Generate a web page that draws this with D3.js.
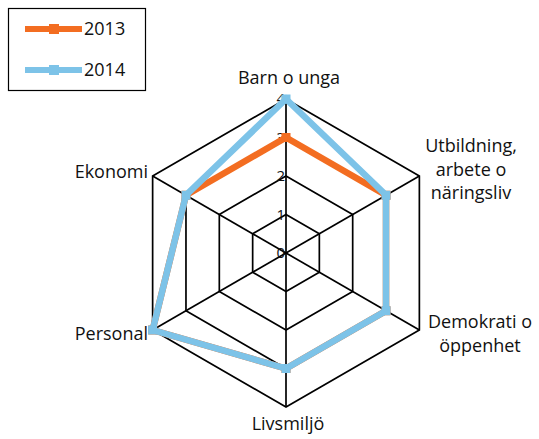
<!DOCTYPE html>
<html>
<head>
<meta charset="utf-8">
<script src="https://cdn.jsdelivr.net/npm/d3@7"></script>
<style>
  html, body { margin: 0; padding: 0; background: #fff; }
  svg { display: block; }
  text { font-family: "Open Sans", Lato, sans-serif; fill: #111; }
</style>
</head>
<body>
<svg id="chart" width="539" height="439"></svg>
<script>
// Radar chart: six areas rated 0–4, two years
const categories = [
  ["Barn o unga"],
  ["Utbildning,", "arbete o", "näringsliv"],
  ["Demokrati o", "öppenhet"],
  ["Livsmiljö"],
  ["Personal"],
  ["Ekonomi"]
];
const years = ["2013", "2014"];
const values2013 = [3, 3, 3, 3, 4, 3];
const values2014 = [4, 3, 3, 3, 4, 3];
const tickValues = [0, 1, 2, 3, 4];
const colors = ["#F36D21", "#7DC3E8"];

const svg = d3.select("#chart");
const cx = 286, cy = 253, R = 154;
const r = d3.scaleLinear().domain([0, 4]).range([0, R]);
const angle = d3.scaleLinear().domain([0, categories.length]).range([0, 2 * Math.PI]);
const pt = (i, v) => [cx + r(v) * Math.sin(angle(i)), cy - r(v) * Math.cos(angle(i))];

const grid = svg.append("g").attr("stroke", "#000").attr("stroke-width", 1.7).attr("fill", "none");
// spokes
categories.forEach((c, i) => {
  grid.append("line")
    .attr("x1", cx).attr("y1", cy)
    .attr("x2", pt(i, 4)[0]).attr("y2", pt(i, 4)[1]);
});
// rings
tickValues.filter(t => t > 0).forEach(t => {
  grid.append("path")
    .attr("d", d3.line()(categories.map((c, i) => pt(i, t))) + "Z");
});

// tick labels along the top spoke
svg.append("g").selectAll("text").data(tickValues).join("text")
  .attr("x", cx - 1).attr("y", d => cy - r(d))
  .attr("text-anchor", "end").attr("dy", "0.36em")
  .attr("font-size", 15)
  .text(d => d);

// series
const series = [values2013, values2014];
series.forEach((vals, s) => {
  const g = svg.append("g");
  g.append("path")
    .attr("d", d3.line()(vals.map((v, i) => pt(i, v))) + "Z")
    .attr("fill", "none").attr("stroke", colors[s])
    .attr("stroke-width", 6.5).attr("stroke-linejoin", "miter");
  g.selectAll("rect").data(vals).join("rect")
    .attr("x", (v, i) => pt(i, v)[0] - 4.5)
    .attr("y", (v, i) => pt(i, v)[1] - 4.5)
    .attr("width", 9).attr("height", 9)
    .attr("fill", colors[s]);
});

// category labels
const labelPos = [
  { x: 289, y: 84, anchor: "middle" },
  { x: 471, y: 152, anchor: "middle" },
  { x: 480, y: 328, anchor: "middle" },
  { x: 288, y: 430, anchor: "middle" },
  { x: 148, y: 340, anchor: "end" },
  { x: 148, y: 178, anchor: "end" }
];
categories.forEach((lines, i) => {
  const t = svg.append("text")
    .attr("x", labelPos[i].x).attr("y", labelPos[i].y)
    .attr("text-anchor", labelPos[i].anchor)
    .attr("font-size", 18);
  lines.forEach((l, k) => {
    t.append("tspan").attr("x", labelPos[i].x).attr("dy", k === 0 ? 0 : 23.5).text(l);
  });
});

// legend
const legend = svg.append("g");
legend.append("rect").attr("x", 8.5).attr("y", 8.5).attr("width", 137).attr("height", 82)
  .attr("fill", "#fff").attr("stroke", "#000").attr("stroke-width", 1.2);
years.forEach((y, k) => {
  const ly = 29 + k * 41;
  legend.append("line").attr("x1", 25).attr("x2", 82).attr("y1", ly).attr("y2", ly)
    .attr("stroke", colors[k]).attr("stroke-width", 6);
  legend.append("rect").attr("x", 49).attr("y", ly - 5).attr("width", 10).attr("height", 10)
    .attr("fill", colors[k]);
  legend.append("text").attr("x", 84).attr("y", ly).attr("dy", "0.36em")
    .attr("font-size", 18).text(y);
});
</script>
</body>
</html>
